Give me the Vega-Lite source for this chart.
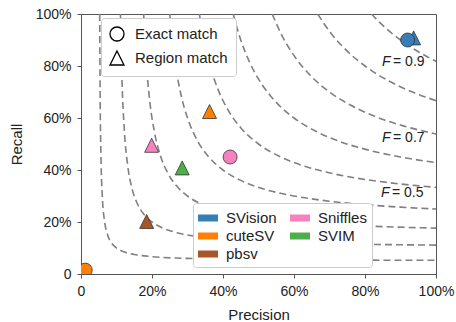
{
  "$schema": "https://vega.github.io/schema/vega-lite/v6.json",
  "width": 355,
  "height": 260,
  "autosize": {"type": "none"},
  "padding": {"left": 81, "top": 14, "right": 20, "bottom": 48},
  "background": "white",
  "config": {
    "font": "Liberation Sans",
    "view": {"stroke": "#555", "strokeWidth": 1},
    "axis": {
      "domainColor": "#555",
      "tickColor": "#555",
      "tickSize": 4,
      "labelFontSize": 14,
      "labelColor": "#222",
      "labelPadding": 6,
      "labelFlush": false,
      "labelOverlap": false,
      "titleFontSize": 15,
      "titleFontWeight": "normal",
      "titleColor": "#222",
      "grid": false
    }
  },
  "datasets": {
    "curves": [
      {"F": 0.1, "p": 0.1, "r": 0.1}, {"F": 0.1, "p": 0.12, "r": 0.0857}, {"F": 0.1, "p": 0.15, "r": 0.075}, {"F": 0.1, "p": 0.2, "r": 0.0667}, {"F": 0.1, "p": 0.3, "r": 0.06}, {"F": 0.1, "p": 0.45, "r": 0.05625}, {"F": 0.1, "p": 0.7, "r": 0.05385}, {"F": 0.1, "p": 1.0, "r": 0.05263},
      {"F": 0.1, "p": 0.0857, "r": 0.12}, {"F": 0.1, "p": 0.075, "r": 0.15}, {"F": 0.1, "p": 0.0667, "r": 0.2}, {"F": 0.1, "p": 0.06, "r": 0.3}, {"F": 0.1, "p": 0.05625, "r": 0.45}, {"F": 0.1, "p": 0.05385, "r": 0.7}, {"F": 0.1, "p": 0.05263, "r": 1.0},
      {"F": 0.2, "p": 0.2, "r": 0.2}, {"F": 0.2, "p": 0.23, "r": 0.1769}, {"F": 0.2, "p": 0.27, "r": 0.1588}, {"F": 0.2, "p": 0.33, "r": 0.1435}, {"F": 0.2, "p": 0.42, "r": 0.1313}, {"F": 0.2, "p": 0.55, "r": 0.1222}, {"F": 0.2, "p": 0.75, "r": 0.1154}, {"F": 0.2, "p": 1.0, "r": 0.1111},
      {"F": 0.2, "p": 0.1769, "r": 0.23}, {"F": 0.2, "p": 0.1588, "r": 0.27}, {"F": 0.2, "p": 0.1435, "r": 0.33}, {"F": 0.2, "p": 0.1313, "r": 0.42}, {"F": 0.2, "p": 0.1222, "r": 0.55}, {"F": 0.2, "p": 0.1154, "r": 0.75}, {"F": 0.2, "p": 0.1111, "r": 1.0},
      {"F": 0.3, "p": 0.3, "r": 0.3}, {"F": 0.3, "p": 0.34, "r": 0.2684}, {"F": 0.3, "p": 0.39, "r": 0.2438}, {"F": 0.3, "p": 0.46, "r": 0.2226}, {"F": 0.3, "p": 0.55, "r": 0.2063}, {"F": 0.3, "p": 0.67, "r": 0.1933}, {"F": 0.3, "p": 0.82, "r": 0.1836}, {"F": 0.3, "p": 1.0, "r": 0.1765},
      {"F": 0.3, "p": 0.2684, "r": 0.34}, {"F": 0.3, "p": 0.2438, "r": 0.39}, {"F": 0.3, "p": 0.2226, "r": 0.46}, {"F": 0.3, "p": 0.2063, "r": 0.55}, {"F": 0.3, "p": 0.1933, "r": 0.67}, {"F": 0.3, "p": 0.1836, "r": 0.82}, {"F": 0.3, "p": 0.1765, "r": 1.0},
      {"F": 0.4, "p": 0.4, "r": 0.4}, {"F": 0.4, "p": 0.45, "r": 0.36}, {"F": 0.4, "p": 0.51, "r": 0.329}, {"F": 0.4, "p": 0.59, "r": 0.3026}, {"F": 0.4, "p": 0.68, "r": 0.2833}, {"F": 0.4, "p": 0.79, "r": 0.2678}, {"F": 0.4, "p": 0.9, "r": 0.2571}, {"F": 0.4, "p": 1.0, "r": 0.25},
      {"F": 0.4, "p": 0.36, "r": 0.45}, {"F": 0.4, "p": 0.329, "r": 0.51}, {"F": 0.4, "p": 0.3026, "r": 0.59}, {"F": 0.4, "p": 0.2833, "r": 0.68}, {"F": 0.4, "p": 0.2678, "r": 0.79}, {"F": 0.4, "p": 0.2571, "r": 0.9}, {"F": 0.4, "p": 0.25, "r": 1.0},
      {"F": 0.5, "p": 0.5, "r": 0.5}, {"F": 0.5, "p": 0.56, "r": 0.4516}, {"F": 0.5, "p": 0.63, "r": 0.4145}, {"F": 0.5, "p": 0.71, "r": 0.3859}, {"F": 0.5, "p": 0.8, "r": 0.3636}, {"F": 0.5, "p": 0.9, "r": 0.3462}, {"F": 0.5, "p": 1.0, "r": 0.3333},
      {"F": 0.5, "p": 0.4516, "r": 0.56}, {"F": 0.5, "p": 0.4145, "r": 0.63}, {"F": 0.5, "p": 0.3859, "r": 0.71}, {"F": 0.5, "p": 0.3636, "r": 0.8}, {"F": 0.5, "p": 0.3462, "r": 0.9}, {"F": 0.5, "p": 0.3333, "r": 1.0},
      {"F": 0.6, "p": 0.6, "r": 0.6}, {"F": 0.6, "p": 0.66, "r": 0.55}, {"F": 0.6, "p": 0.73, "r": 0.5093}, {"F": 0.6, "p": 0.81, "r": 0.4765}, {"F": 0.6, "p": 0.9, "r": 0.45}, {"F": 0.6, "p": 1.0, "r": 0.4286},
      {"F": 0.6, "p": 0.55, "r": 0.66}, {"F": 0.6, "p": 0.5093, "r": 0.73}, {"F": 0.6, "p": 0.4765, "r": 0.81}, {"F": 0.6, "p": 0.45, "r": 0.9}, {"F": 0.6, "p": 0.4286, "r": 1.0},
      {"F": 0.7, "p": 0.7, "r": 0.7}, {"F": 0.7, "p": 0.76, "r": 0.6488}, {"F": 0.7, "p": 0.83, "r": 0.6052}, {"F": 0.7, "p": 0.91, "r": 0.5688}, {"F": 0.7, "p": 1.0, "r": 0.5385},
      {"F": 0.7, "p": 0.6488, "r": 0.76}, {"F": 0.7, "p": 0.6052, "r": 0.83}, {"F": 0.7, "p": 0.5688, "r": 0.91}, {"F": 0.7, "p": 0.5385, "r": 1.0},
      {"F": 0.8, "p": 0.8, "r": 0.8}, {"F": 0.8, "p": 0.86, "r": 0.7478}, {"F": 0.8, "p": 0.93, "r": 0.7019}, {"F": 0.8, "p": 1.0, "r": 0.6667},
      {"F": 0.8, "p": 0.7478, "r": 0.86}, {"F": 0.8, "p": 0.7019, "r": 0.93}, {"F": 0.8, "p": 0.6667, "r": 1.0},
      {"F": 0.9, "p": 0.9, "r": 0.9}, {"F": 0.9, "p": 0.925, "r": 0.8763}, {"F": 0.9, "p": 0.95, "r": 0.855}, {"F": 0.9, "p": 0.975, "r": 0.8357}, {"F": 0.9, "p": 1.0, "r": 0.8182},
      {"F": 0.9, "p": 0.8763, "r": 0.925}, {"F": 0.9, "p": 0.855, "r": 0.95}, {"F": 0.9, "p": 0.8357, "r": 0.975}, {"F": 0.9, "p": 0.8182, "r": 1.0}
    ],
    "points": [
      {"tool": "SVision", "match": "Region match", "precision": 0.937, "recall": 0.908},
      {"tool": "cuteSV", "match": "Region match", "precision": 0.362, "recall": 0.625},
      {"tool": "pbsv", "match": "Region match", "precision": 0.185, "recall": 0.202},
      {"tool": "Sniffles", "match": "Region match", "precision": 0.199, "recall": 0.495},
      {"tool": "SVIM", "match": "Region match", "precision": 0.285, "recall": 0.408},
      {"tool": "SVision", "match": "Exact match", "precision": 0.92, "recall": 0.9},
      {"tool": "cuteSV", "match": "Exact match", "precision": 0.012, "recall": 0.015},
      {"tool": "Sniffles", "match": "Exact match", "precision": 0.42, "recall": 0.45}
    ],
    "labels": [
      {"F": "F", "eq": "= 0.9", "x": 0.848, "y": 0.816},
      {"F": "F", "eq": "= 0.7", "x": 0.848, "y": 0.523},
      {"F": "F", "eq": "= 0.5", "x": 0.845, "y": 0.3115}
    ]
  },
  "layer": [
    {
      "data": {"name": "curves"},
      "mark": {"type": "line", "interpolate": "monotone", "color": "#808080", "strokeWidth": 1.6, "strokeDash": [7, 4], "clip": true},
      "encoding": {
        "x": {"field": "p", "type": "quantitative", "scale": {"domain": [0, 1], "nice": false, "zero": false},
          "axis": {"values": [0, 0.2, 0.4, 0.6, 0.8, 1], "labelExpr": "datum.value == 0 ? '0' : format(datum.value, '.0%')", "title": "Precision", "titleY": 40, "titleBaseline": "middle"}},
        "y": {"field": "r", "type": "quantitative", "scale": {"domain": [0, 1], "nice": false, "zero": false},
          "axis": {"values": [0, 0.2, 0.4, 0.6, 0.8, 1], "labelExpr": "datum.value == 0 ? '0' : format(datum.value, '.0%')", "title": "Recall", "titleX": -65, "titleY": 130, "titleAngle": 270, "titleBaseline": "middle", "titleAlign": "center"}},
        "detail": {"field": "F", "type": "nominal"}
      }
    },
    {
      "data": {"name": "labels"},
      "mark": {"type": "text", "align": "left", "baseline": "middle", "fontSize": 14, "fontStyle": "italic", "color": "#222"},
      "encoding": {
        "x": {"field": "x", "type": "quantitative"},
        "y": {"field": "y", "type": "quantitative"},
        "text": {"field": "F"}
      }
    },
    {
      "data": {"name": "labels"},
      "mark": {"type": "text", "align": "left", "baseline": "middle", "fontSize": 14, "dx": 11, "color": "#222"},
      "encoding": {
        "x": {"field": "x", "type": "quantitative"},
        "y": {"field": "y", "type": "quantitative"},
        "text": {"field": "eq"}
      }
    },
    {
      "data": {"name": "points"},
      "mark": {"type": "point", "filled": true, "size": 196, "stroke": "#333", "strokeWidth": 0.8, "opacity": 1, "clip": true},
      "encoding": {
        "x": {"field": "precision", "type": "quantitative"},
        "y": {"field": "recall", "type": "quantitative"},
        "color": {
          "field": "tool", "type": "nominal",
          "scale": {"domain": ["SVision", "cuteSV", "pbsv", "Sniffles", "SVIM"], "range": ["#377eb8", "#ff7f00", "#a65628", "#f781bf", "#4daf4a"]},
          "legend": {
            "title": null, "orient": "none", "legendX": 112, "legendY": 189, "columns": 2, "columnPadding": 13, "rowPadding": 0,
            "symbolType": "M-1,-0.35L1,-0.35L1,0.35L-1,0.35Z", "symbolSize": 400, "symbolStrokeWidth": 0, "symbolOpacity": 1,
            "labelFontSize": 15, "labelColor": "#222", "labelOffset": 8, "padding": 5,
            "fillColor": "white", "strokeColor": "#ccc", "cornerRadius": 3
          }
        },
        "shape": {
          "field": "match", "type": "nominal",
          "scale": {"domain": ["Exact match", "Region match"], "range": ["circle", "M0,-1L1,1L-1,1Z"]},
          "legend": {
            "title": null, "orient": "none", "legendX": 20, "legendY": 4,
            "symbolSize": 196, "symbolStrokeColor": "black", "symbolStrokeWidth": 1.3, "symbolFillColor": "white",
            "labelFontSize": 15, "labelColor": "#222", "labelOffset": 10, "rowPadding": 4, "padding": 8,
            "fillColor": "white", "strokeColor": "#ccc", "cornerRadius": 3,
            "encode": {"symbols": {"update": {"fill": {"value": "white"}, "stroke": {"value": "black"}}}}
          }
        }
      }
    }
  ]
}
